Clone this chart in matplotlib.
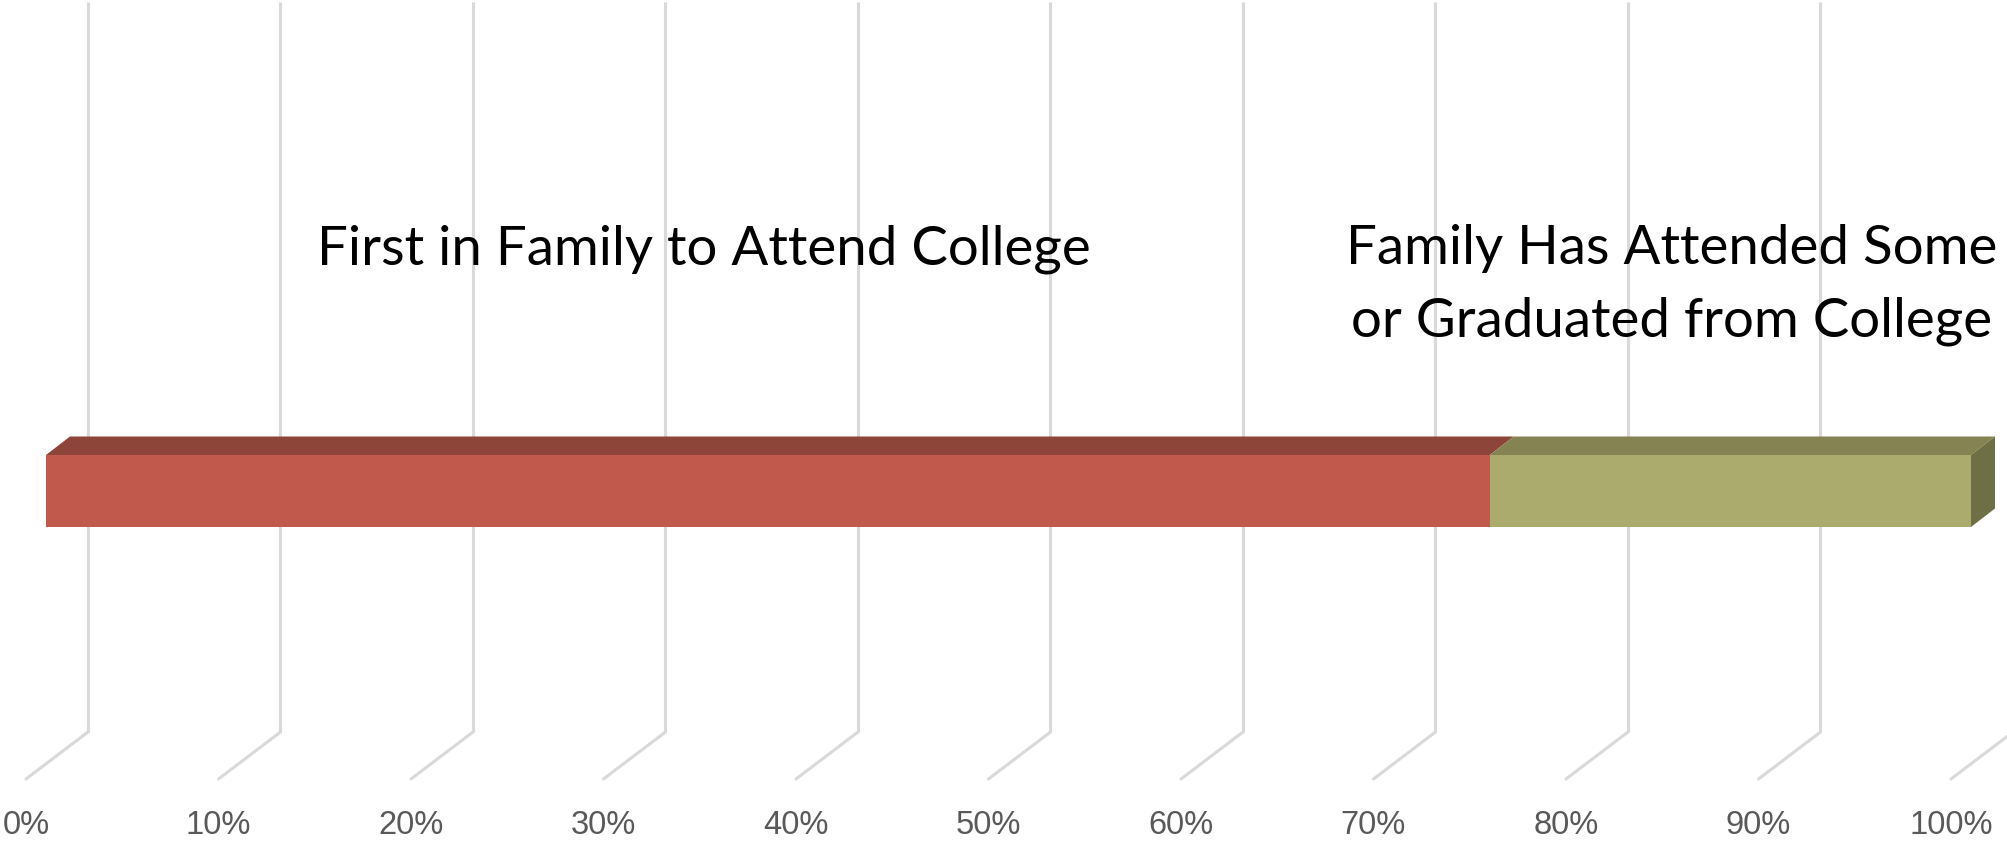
import matplotlib
matplotlib.use("Agg")
import matplotlib.pyplot as plt
from matplotlib.patches import Polygon

# ---- data ----
categories = ["First in Family to Attend College",
              "Family Has Attended Some\nor Graduated from College"]
values = [75, 25]
tick_values = [0, 10, 20, 30, 40, 50, 60, 70, 80, 90, 100]
tick_labels = [f"{v}%" for v in tick_values]

front_colors = ["#C15A4C", "#ACAB6E"]
top_colors = ["#8D4539", "#868352"]
side_color = "#6E6F45"

W, H = 2008, 842
S = 19.25  # px per percent unit
fig = plt.figure(figsize=(W / 100, H / 100), dpi=100)
ax = fig.add_axes([0, 0, 1, 1])
ax.set_xlim(-26 / S, (W - 26) / S)
ax.set_ylim(H, 0)
ax.axis("off")

# 3D geometry (style)
DX = 62 / S          # full floor depth in x units
FLOOR_FRONT, FLOOR_BACK, GRID_TOP = 779, 732, 2
grid_col = "#D9D9D9"
for v in tick_values:
    ax.plot([v + DX, v + DX], [FLOOR_BACK, GRID_TOP], color=grid_col, lw=2.2,
            solid_capstyle="butt", zorder=1)
    ax.plot([v, v + DX], [FLOOR_FRONT, FLOOR_BACK], color=grid_col, lw=2.2,
            solid_capstyle="round", zorder=1)

for v, lab in zip(tick_values, tick_labels):
    ax.text(v, 826, lab, ha="center", va="center", fontsize=23.5,
            color="#595959", family="Liberation Sans")

# bars
OFF = 20 / S
DXB = 24 / S
DYB = 18.5
TOP, BOT = 455, 527
left = 0
for i, val in enumerate(values):
    l, r = left + OFF, left + val + OFF
    ax.add_patch(Polygon([(l, TOP), (r, TOP), (r + DXB, TOP - DYB), (l + DXB, TOP - DYB)],
                         closed=True, fc=top_colors[i], ec="none", zorder=3))
    ax.add_patch(Polygon([(l, TOP), (r, TOP), (r, BOT), (l, BOT)],
                         closed=True, fc=front_colors[i], ec="none", zorder=4))
    if i == len(values) - 1:
        ax.add_patch(Polygon([(r, TOP), (r + DXB, TOP - DYB), (r + DXB, BOT - DYB), (r, BOT)],
                             closed=True, fc=side_color, ec="none", zorder=3))
    left += val

# category labels
FS = 39.3
ax.text(35.2, 264, categories[0], ha="center", va="baseline", fontsize=FS,
        family="Lato", color="black")
line1, line2 = categories[1].split("\n")
ax.text(85.5, 264, line1, ha="center", va="baseline", fontsize=FS,
        family="Lato", color="black")
ax.text(85.5, 336, line2, ha="center", va="baseline", fontsize=FS,
        family="Lato", color="black")

fig.savefig("out.png", dpi=100)
